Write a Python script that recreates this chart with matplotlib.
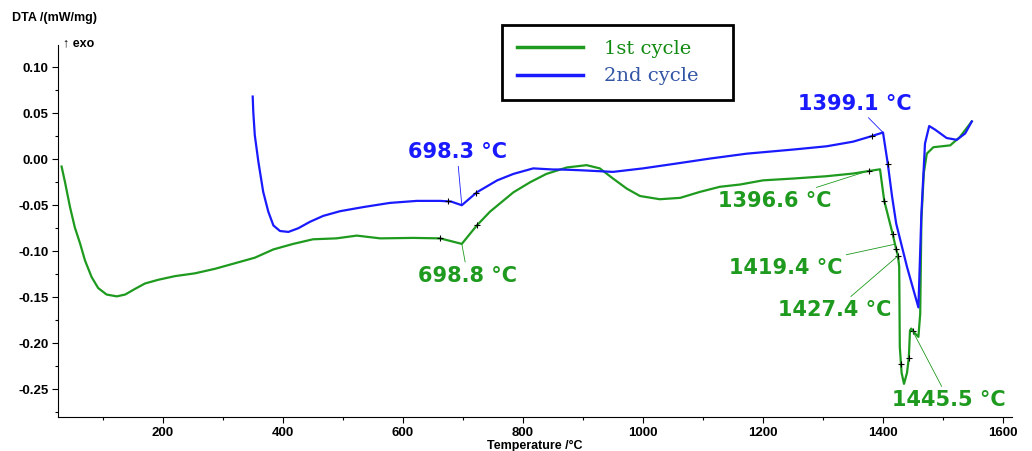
import numpy as np
import matplotlib.pyplot as plt
from matplotlib.ticker import MultipleLocator

# 1st cycle (green) - temperature in degC, DTA in mW/mg
t1 = [31, 37, 45, 53, 62, 70, 81, 92, 106, 123, 137, 153, 170, 192, 220, 253,
      287, 320, 353, 384, 417, 450, 489, 523, 562, 617, 662, 698, 723, 745,
      784, 812, 839, 873, 906, 928, 950, 973, 995, 1028, 1062, 1095, 1128,
      1162, 1200, 1251, 1306, 1350, 1378, 1395, 1402, 1416, 1422, 1425, 1427,
      1428, 1431, 1435, 1440, 1443, 1445, 1447, 1453, 1459, 1462, 1464, 1468,
      1473, 1484, 1512, 1528, 1548]
dta1 = [-0.008, -0.026, -0.052, -0.074, -0.092, -0.110, -0.128, -0.140, -0.147,
        -0.149, -0.147, -0.141, -0.135, -0.131, -0.127, -0.124, -0.119, -0.113,
        -0.107, -0.098, -0.092, -0.087, -0.086, -0.083, -0.086, -0.0855, -0.086,
        -0.092, -0.072, -0.057, -0.036, -0.025, -0.016, -0.009, -0.0065, -0.010,
        -0.021, -0.032, -0.040, -0.0435, -0.042, -0.0355, -0.030, -0.0275,
        -0.023, -0.021, -0.0185, -0.0156, -0.0127, -0.011, -0.045, -0.081,
        -0.098, -0.105, -0.117, -0.204, -0.232, -0.244, -0.232, -0.216, -0.186,
        -0.184, -0.189, -0.193, -0.168, -0.066, -0.015, 0.006, 0.013, 0.015,
        0.024, 0.041]

# 2nd cycle (blue)
t2 = [349.5, 350.5, 353, 359, 367, 375.5, 384, 395, 409, 425.5, 445, 467, 495,
      534, 578, 623, 662, 680, 698, 723, 757, 784, 817, 850, 862, 895, 950,
      1000, 1056, 1112, 1173, 1251, 1306, 1350, 1381, 1400, 1408, 1415, 1422,
      1440, 1459, 1464, 1470, 1477, 1487, 1506, 1523, 1537, 1548]
dta2 = [0.068, 0.051, 0.026, -0.003, -0.0355, -0.057, -0.072, -0.078, -0.079,
        -0.075, -0.068, -0.0616, -0.0565, -0.052, -0.0475, -0.0453, -0.0453,
        -0.046, -0.050, -0.036, -0.023, -0.016, -0.010, -0.0112, -0.0112,
        -0.012, -0.0138, -0.010, -0.0047, 0.0007, 0.006, 0.0105, 0.014, 0.019,
        0.025, 0.029, -0.005, -0.040, -0.070, -0.117, -0.161, -0.059, 0.017,
        0.036, 0.032, 0.023, 0.021, 0.028, 0.041]

# evaluation tick marks (temperatures)
marks1 = [662, 723, 1377, 1402, 1416, 1422, 1425, 1430, 1443, 1450]
marks2 = [675, 722, 1381, 1408]

# labels: text, curve, target temperature, text position (T, DTA)
labels = [
    ("698.3 °C", 2, 698, (690, 0.0076)),
    ("698.8 °C", 1, 698, (708, -0.127)),
    ("1399.1 °C", 2, 1400, (1353, 0.060)),
    ("1396.6 °C", 1, 1373, (1220, -0.045)),
    ("1419.4 °C", 1, 1420, (1238, -0.118)),
    ("1427.4 °C", 1, 1425, (1320, -0.164)),
    ("1445.5 °C", 1, 1448, (1510, -0.262)),
]

GREEN = "#1e9a1e"
BLUE = "#1a1aff"

plt.rcParams['font.family'] = ['Liberation Sans', 'DejaVu Sans']

fig = plt.figure(figsize=(10.32, 4.51), dpi=100)
ax = fig.add_axes([58 / 1032, 1 - 417 / 451, (1012 - 58) / 1032, (417 - 45) / 451])

l1, = ax.plot(t1, dta1, color=GREEN, lw=1.6, label="1st cycle")
l2, = ax.plot(t2, dta2, color=BLUE, lw=1.6, label="2nd cycle")

ax.plot(marks1, np.interp(marks1, t1, dta1), '+', color='black', ms=5, mew=0.8)
ax.plot(marks2, np.interp(marks2, t2, dta2), '+', color='black', ms=5, mew=0.8)

curves = {1: (t1, dta1, GREEN), 2: (t2, dta2, BLUE)}
for text, c, tx, pos in labels:
    tt, vv, col = curves[c]
    ax.annotate(text, xy=(tx, np.interp(tx, tt, vv)), xytext=pos,
                ha='center', va='center', color=col, fontsize=15,
                fontweight='bold', family='DejaVu Sans',
                arrowprops=dict(arrowstyle='-', color=col, lw=0.6,
                                shrinkA=1, shrinkB=0))

ax.set_xlim(25, 1615)
ax.set_ylim(-0.280, 0.124)
ax.xaxis.set_minor_locator(MultipleLocator(100))
ax.yaxis.set_minor_locator(MultipleLocator(0.025))
ax.tick_params(which='major', length=4, width=0.8, labelsize=9.5, pad=3)
ax.tick_params(which='minor', length=2, width=0.8)
ax.set_xticks([200, 400, 600, 800, 1000, 1200, 1400, 1600])
ax.set_yticks([0.10, 0.05, 0.0, -0.05, -0.10, -0.15, -0.20, -0.25])
ax.yaxis.set_major_formatter(plt.FuncFormatter(lambda v, p: f"{v:.2f}"))
for lab in ax.get_xticklabels() + ax.get_yticklabels():
    lab.set_fontweight('bold')
for s in ('top', 'right'):
    ax.spines[s].set_visible(False)

ax.set_xlabel("Temperature /°C", fontsize=9, fontweight='bold', labelpad=1)
fig.text(12 / 1032, 1 - 18 / 451, "DTA /(mW/mg)", fontsize=9,
         fontweight='bold', va='center', ha='left')
fig.text(63 / 1032, 1 - 43 / 451, "↑ exo", fontsize=9,
         fontweight='bold', va='center', ha='left')

leg = ax.legend(handles=[l1, l2], loc='upper left', mode='expand',
                bbox_to_anchor=(502 / 1032, 1 - 102 / 451, 231 / 1032, 77 / 451),
                bbox_transform=fig.transFigure, borderaxespad=0,
                prop={'family': 'DejaVu Serif', 'size': 14},
                handlelength=3.4, handletextpad=1.1, labelspacing=0.5,
                borderpad=0.75, fancybox=False, framealpha=1)
leg.get_frame().set_edgecolor('black')
leg.get_frame().set_linewidth(2)
leg.get_texts()[0].set_color("#118a11")
leg.get_texts()[1].set_color("#3355a5")
for h in leg.legend_handles:
    h.set_linewidth(2.5)

fig.savefig("out.png", dpi=100)
